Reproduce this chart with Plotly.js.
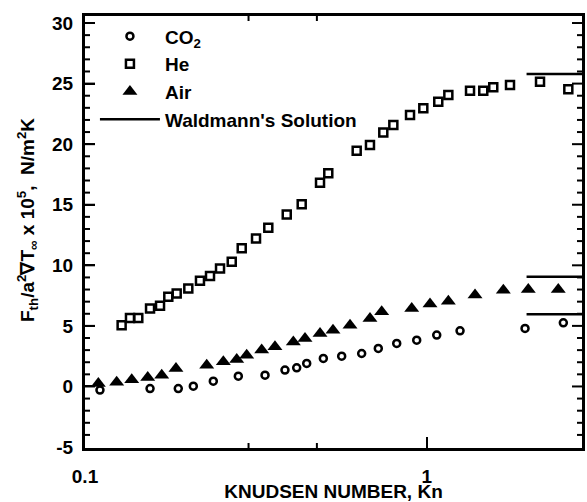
<!DOCTYPE html>
<html>
<head>
<meta charset="utf-8">
<script src="https://cdn.plot.ly/plotly-3.0.1.min.js"></script>
<style>html,body{margin:0;padding:0;background:#fff;}#chart{width:587px;height:502px;}</style>
</head>
<body>
<div id="chart"></div>
<script>
// Helium data (Knudsen number, force value)
const heKn = [0.128, 0.1354, 0.1432, 0.155, 0.1658, 0.1753, 0.1855, 0.2006, 0.217, 0.2322, 0.2484, 0.2688, 0.2875, 0.3166, 0.3439, 0.3894, 0.4307, 0.4873, 0.5152, 0.6239, 0.6823, 0.7464, 0.7987, 0.8937, 0.9774, 1.081, 1.157, 1.339, 1.464, 1.566, 1.753, 2.146, 2.597];
const heF  = [5.06, 5.66, 5.66, 6.44, 6.66, 7.40, 7.68, 8.09, 8.72, 9.11, 9.74, 10.29, 11.40, 12.22, 13.10, 14.20, 15.05, 16.81, 17.59, 19.45, 19.93, 20.96, 21.58, 22.40, 22.96, 23.50, 24.05, 24.41, 24.41, 24.69, 24.88, 25.15, 24.53];
// Air data
const airKn = [0.1094, 0.1238, 0.137, 0.1526, 0.1677, 0.1846, 0.2271, 0.254, 0.278, 0.2973, 0.3289, 0.3597, 0.4071, 0.4404, 0.4873, 0.5318, 0.5965, 0.6823, 0.7384, 0.904, 1.0226, 1.157, 1.385, 1.676, 1.983, 2.427];
const airF  = [0.25, 0.35, 0.55, 0.74, 0.93, 1.49, 1.76, 2.03, 2.23, 2.58, 3.0, 3.27, 3.68, 3.96, 4.38, 4.65, 5.06, 5.62, 6.16, 6.44, 6.8, 7.04, 7.54, 7.95, 8.01, 8.01];
// CO2 data
const co2Kn = [0.1106, 0.155, 0.1875, 0.2075, 0.2374, 0.281, 0.3364, 0.3848, 0.4164, 0.4455, 0.4983, 0.5639, 0.6452, 0.7217, 0.8171, 0.9349, 1.07, 1.252, 1.94, 2.511];
const co2F  = [-0.3, -0.17, -0.17, 0.02, 0.44, 0.85, 0.93, 1.35, 1.54, 1.9, 2.31, 2.5, 2.72, 3.14, 3.55, 3.82, 4.24, 4.59, 4.79, 5.25];
// Waldmann's solution (free-molecular limits)
const waldKn = [1.96, 2.85];
const waldHe = [25.8, 25.8];
const waldAir = [9.05, 9.05];
const waldCO2 = [5.97, 5.97];

// Tick labels / positions
const xTickVals = [0.1, 1];
const xTickText = ['0.1', '1'];
const xMinorVals = [0.2, 0.3, 0.4, 0.5, 0.6, 0.7, 0.8, 0.9, 2, 3];
const yTickVals = [-5, 0, 5, 10, 15, 20, 25, 30];
const yTickText = ['-5', '0', '5', '10', '15', '20', '25', '30'];
const yMinorVals = [-4, -3, -2, -1, 1, 2, 3, 4, 6, 7, 8, 9, 11, 12, 13, 14, 16, 17, 18, 19, 21, 22, 23, 24, 26, 27, 28, 29];

const FONT = 'Liberation Sans, Arial, Helvetica, sans-serif';
const XR = [-1, 0.4545];     // log10 range of Kn
const YR = [-5.08, 30.58];
const BOLD = {family: FONT, size: 19, color: '#000', weight: 'bold'};

const mk = (sym, size, lw) => ({symbol: sym, size: size, color: '#000', line: {width: lw, color: '#000'}});

const traces = [
  {x: co2Kn, y: co2F, mode: 'markers', name: 'CO<sub>2</sub>', type: 'scatter', marker: mk('circle-open', 7, 2.5)},
  {x: heKn, y: heF, mode: 'markers', name: 'He', type: 'scatter', marker: mk('square-open', 8, 2.5)},
  {x: airKn, y: airF, mode: 'markers', name: 'Air', type: 'scatter', marker: {symbol: 'triangle-up', size: 13, color: '#000'}},
  {x: waldKn, y: waldHe, mode: 'lines', name: "Waldmann's Solution", type: 'scatter', legendgroup: 'w', line: {color: '#000', width: 2.5}},
  {x: waldKn, y: waldAir, mode: 'lines', showlegend: false, type: 'scatter', legendgroup: 'w', line: {color: '#000', width: 2.5}},
  {x: waldKn, y: waldCO2, mode: 'lines', showlegend: false, type: 'scatter', legendgroup: 'w', line: {color: '#000', width: 2.5}}
];

// Tick marks as pixel-sized shapes anchored at the axis positions (all four sides)
const tickLine = {color: '#000', width: 2};
const shapes = [];
function xTicks(vals, len) {
  vals.forEach(v => {
    const lx = Math.log10(v);
    shapes.push({type: 'line', layer: 'above', xref: 'x', yref: 'paper', ysizemode: 'pixel', yanchor: 0,
                 x0: lx, x1: lx, y0: 0, y1: len, line: tickLine});
    shapes.push({type: 'line', layer: 'above', xref: 'x', yref: 'paper', ysizemode: 'pixel', yanchor: 1,
                 x0: lx, x1: lx, y0: 0, y1: -len, line: tickLine});
  });
}
function yTicks(vals, len) {
  vals.forEach(v => {
    shapes.push({type: 'line', layer: 'above', xref: 'paper', yref: 'y', xsizemode: 'pixel', xanchor: 0,
                 x0: 0, x1: len, y0: v, y1: v, line: tickLine});
    shapes.push({type: 'line', layer: 'above', xref: 'paper', yref: 'y', xsizemode: 'pixel', xanchor: 1,
                 x0: 0, x1: -len, y0: v, y1: v, line: tickLine});
  });
}
xTicks([1], 11);
xTicks(xMinorVals, 5);
yTicks(yTickVals.filter(v => v > YR[0] + 0.5 && v < YR[1] - 0.5), 10);
yTicks(yMinorVals, 5);

const layout = {
  width: 587, height: 502,
  margin: {l: 85, r: 5, t: 16, b: 54},
  paper_bgcolor: '#fff', plot_bgcolor: '#fff',
  font: BOLD,
  showlegend: true,
  legend: {x: 0.02, y: 0.997, xanchor: 'left', yanchor: 'top', bgcolor: 'rgba(0,0,0,0)',
           font: BOLD, itemwidth: 60, tracegroupgap: 0},
  xaxis: {
    type: 'log', range: XR,
    tickvals: xTickVals, ticktext: xTickText,
    ticks: 'inside', ticklen: 11, tickwidth: 2, tickcolor: '#000', ticklabelstandoff: 9,
    showline: true, linewidth: 3, linecolor: '#000', mirror: true,
    showgrid: false, zeroline: false,
    tickfont: BOLD,
    title: {text: 'KNUDSEN NUMBER, Kn', font: BOLD, standoff: 1}
  },
  yaxis: {
    range: YR,
    tickvals: yTickVals, ticktext: yTickText,
    ticks: 'inside', ticklen: 10, tickwidth: 2, tickcolor: '#000', ticklabelstandoff: 5,
    showline: true, linewidth: 3, linecolor: '#000', mirror: true,
    showgrid: false, zeroline: false,
    tickfont: BOLD
  },
  shapes: shapes,
  annotations: [{
    xref: 'paper', yref: 'paper', x: -0.1147, y: 0.5278, xanchor: 'center', yanchor: 'middle',
    textangle: -90, showarrow: false,
    text: 'F<sub>th</sub>/a<sup>2</sup>\u2207T<sub>\u221e</sub> x 10<sup>5</sup>,  N/m<sup>2</sup>K',
    font: BOLD
  }]
};

Plotly.newPlot('chart', traces, layout, {displayModeBar: false});
</script>
</body>
</html>
